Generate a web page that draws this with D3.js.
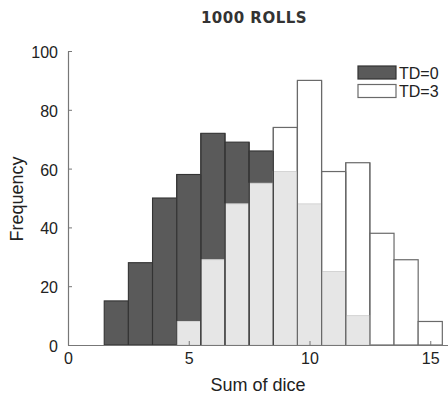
<!DOCTYPE html>
<html>
<head>
<meta charset="utf-8">
<script src="https://cdn.jsdelivr.net/npm/d3@7"></script>
<style>
  body { margin: 0; background: #fff; }
  svg { display: block; }
</style>
</head>
<body>
<div id="chart"></div>
<script>
// bin centres (sum of dice) and counts for each histogram
var sums = [2, 3, 4, 5, 6, 7, 8, 9, 10, 11, 12, 13, 14, 15];
var td0 = [15, 28, 50, 58, 72, 69, 66, 59, 48, 25, 10, 0, 0, 0];
var td3 = [0, 0, 0, 8, 29, 48, 55, 74, 90, 59, 62, 38, 29, 8];
var xTicks = [0, 5, 10, 15];
var yTicks = [0, 20, 40, 60, 80, 100];
var legendLabels = ["TD=0", "TD=3"];

var w = 448, h = 395;
const marginTop = 51;
const marginBottom = 50;   // y(0) sits at 345
const marginLeft = 68;

var svg = d3.select("#chart").append("svg")
    .attr("width", w)
    .attr("height", h)
    .attr("viewBox", [0, 0, w, h]);

var x = d3.scaleLinear().domain([0, 16]).range([marginLeft, marginLeft + 16 * 24.15]);
var y = d3.scaleLinear().domain([0, 100]).range([h - marginBottom, marginTop]);

var bins = sums.map(function(s, i) {
    return { s: s, a: td0[i], b: td3[i], both: Math.min(td0[i], td3[i]) };
});

// TD=0 (dark)
svg.append("g").selectAll("rect")
    .data(bins.filter(d => d.a > d.both))
    .join("rect")
    .attr("x", d => x(d.s - 0.5))
    .attr("width", d => x(d.s + 0.5) - x(d.s - 0.5))
    .attr("y", d => y(d.a))
    .attr("height", d => y(0) - y(d.a))
    .attr("fill", "#5a5a5a")
    .attr("stroke", "#333")
    .attr("stroke-width", 1.1);

// TD=3 (white)
svg.append("g").selectAll("rect")
    .data(bins.filter(d => d.b > d.both))
    .join("rect")
    .attr("x", d => x(d.s - 0.5))
    .attr("width", d => x(d.s + 0.5) - x(d.s - 0.5))
    .attr("y", d => y(d.b))
    .attr("height", d => y(0) - y(d.b))
    .attr("fill", "#fff")
    .attr("stroke", "#6a6a6a")
    .attr("stroke-width", 1.2);

// overlap of both (light grey)
svg.append("g").selectAll("rect")
    .data(bins.filter(d => d.both > 0))
    .join("rect")
    .attr("x", d => x(d.s - 0.5))
    .attr("width", d => x(d.s + 0.5) - x(d.s - 0.5))
    .attr("y", d => y(d.both))
    .attr("height", d => y(0) - y(d.both))
    .attr("fill", "#e6e6e6")
    .attr("stroke", "#d4d4d4")
    .attr("stroke-width", 1);

// vertical edges of the bins that hold both histograms
var edgeBins = bins.filter(d => d.both > 0);
[-0.5, 0.5].forEach(function(off) {
    svg.append("g").selectAll("line")
        .data(edgeBins)
        .join("line")
        .attr("x1", d => x(d.s + off))
        .attr("x2", d => x(d.s + off))
        .attr("y1", d => y(Math.max(d.a, d.b)))
        .attr("y2", y(0))
        .attr("stroke", d => d.a > d.b ? "#3a3a3a" : "#6a6a6a")
        .attr("stroke-width", 1.1);
});

// axes, MATLAB style ticks pointing inward
svg.append("g")
    .attr("transform", `translate(${marginLeft},0)`)
    .call(d3.axisLeft(y).tickValues(yTicks).tickSize(-4).tickSizeOuter(0).tickPadding(10))
    .call(g => g.select(".domain").attr("stroke", "#777").attr("stroke-width", 1.2))
    .call(g => g.selectAll(".tick line").attr("stroke", "#777"))
    .call(g => g.selectAll(".tick text")
        .attr("fill", "#222")
        .attr("dy", "0.4em")
        .style("font", "16px 'Liberation Sans', Arial, sans-serif"));

svg.append("g")
    .attr("transform", `translate(0,${y(0)})`)
    .call(d3.axisBottom(x).tickValues(xTicks).tickSize(-4).tickSizeOuter(0).tickPadding(8))
    .call(g => g.select(".domain").attr("stroke", "#777").attr("stroke-width", 1.2))
    .call(g => g.selectAll(".tick line").attr("stroke", "#777"))
    .call(g => g.selectAll(".tick text")
        .attr("fill", "#222")
        .style("font", "16px 'Liberation Sans', Arial, sans-serif"));

// labels
svg.append("text")
    .attr("x", 258)
    .attr("y", 391)
    .attr("text-anchor", "middle")
    .attr("fill", "#222")
    .style("font", "18px 'Liberation Sans', Arial, sans-serif")
    .text("Sum of dice");

svg.append("text")
    .attr("transform", "translate(23,199) rotate(-90)")
    .attr("text-anchor", "middle")
    .attr("fill", "#222")
    .style("font", "18px 'Liberation Sans', Arial, sans-serif")
    .text("Frequency");

svg.append("text")
    .attr("x", 254)
    .attr("y", 23)
    .attr("text-anchor", "middle")
    .attr("fill", "#333")
    .style("font", "bold 15px 'DejaVu Sans', sans-serif")
    .style("letter-spacing", "0.5px")
    .text("1000 ROLLS");

// legend
var legendFill = ["#5a5a5a", "#fff"];
var legendStroke = ["#333", "#6a6a6a"];
var lg = svg.append("g").selectAll("g")
    .data(legendLabels)
    .join("g")
    .attr("transform", (d, i) => `translate(358,${66 + i * 18.5})`);
lg.append("rect")
    .attr("width", 38)
    .attr("height", 13)
    .attr("fill", (d, i) => legendFill[i])
    .attr("stroke", (d, i) => legendStroke[i])
    .attr("stroke-width", 1.2);
lg.append("text")
    .attr("x", 41)
    .attr("y", 12.5)
    .attr("fill", "#222")
    .style("font", "16px 'Liberation Sans', Arial, sans-serif")
    .text(d => d);
</script>
</body>
</html>
